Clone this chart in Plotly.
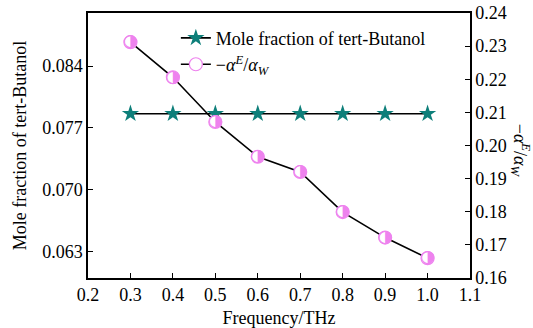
import plotly.graph_objects as go

freq = [0.3, 0.4, 0.5, 0.6, 0.7, 0.8, 0.9, 1.0]
mole_fraction = [0.0786, 0.0786, 0.0786, 0.0786, 0.0786, 0.0786, 0.0786, 0.0786]
alpha_ratio = [0.2312, 0.2206, 0.2071, 0.1966, 0.1920, 0.1799, 0.1722, 0.1660]
x_ticks = [0.2, 0.3, 0.4, 0.5, 0.6, 0.7, 0.8, 0.9, 1.0, 1.1]
y_left_ticks = [0.063, 0.070, 0.077, 0.084]
y_right_ticks = [0.16, 0.17, 0.18, 0.19, 0.20, 0.21, 0.22, 0.23, 0.24]
half_circle = ["\u25d1", "\u25d1", "\u25d1", "\u25d1", "\u25d1", "\u25d1", "\u25d1", "\u25d1"]

FONT = "Times New Roman, Liberation Serif, DejaVu Serif, serif"
TEAL = "#0e7f7a"
PINK = "#ee82ee"
ALPHA_LABEL = "\u2212<i>\u03b1</i><sup><i>E</i></sup>/<i>\u03b1</i><sub><i>W</i></sub>"

fig = go.Figure()
fig.add_trace(go.Scatter(
    x=freq, y=mole_fraction, mode="lines+markers",
    name="Mole fraction of tert-Butanol",
    line=dict(color="black", width=1.6),
    marker=dict(symbol="star", size=13, color=TEAL, line=dict(width=0)),
    yaxis="y",
))
fig.add_trace(go.Scatter(
    x=freq, y=alpha_ratio, mode="lines+markers",
    name=ALPHA_LABEL,
    line=dict(color="black", width=1.6),
    marker=dict(symbol="circle", size=13, color="white",
                line=dict(color=PINK, width=1.2)),
    yaxis="y2",
))
fig.add_trace(go.Scatter(
    x=freq, y=alpha_ratio, mode="text",
    text=half_circle, textposition="middle center",
    textfont=dict(family="DejaVu Sans", size=17, color=PINK),
    showlegend=False, hoverinfo="skip", yaxis="y2",
))

axis_common = dict(
    showline=True, linecolor="black", linewidth=1.5,
    ticks="inside", ticklen=5, tickwidth=1.2, tickcolor="black",
    showgrid=False, zeroline=False, automargin=False,
    tickfont=dict(family=FONT, size=18, color="black"),
)

fig.update_layout(
    width=533, height=328,
    margin=dict(l=88, r=63, t=13, b=50),
    paper_bgcolor="white", plot_bgcolor="white",
    font=dict(family=FONT, size=18, color="black"),
    showlegend=True,
    legend=dict(x=0.23, y=0.975, xanchor="left", yanchor="top",
                bgcolor="rgba(0,0,0,0)", font=dict(family=FONT, size=18),
                tracegroupgap=0),
    xaxis=dict(range=[0.2, 1.1], tickvals=x_ticks, tickformat=".1f",
               mirror=True,
               title=dict(text="Frequency/THz", standoff=24,
                          font=dict(family=FONT, size=18)),
               **axis_common),
    yaxis=dict(range=[0.060, 0.090], tickvals=y_left_ticks, tickformat=".3f",
               title=dict(text="Mole fraction of tert-Butanol", standoff=11,
                          font=dict(family=FONT, size=18)),
               **axis_common),
    yaxis2=dict(range=[0.16, 0.24], tickvals=y_right_ticks, tickformat=".2f",
                overlaying="y", side="right", **axis_common),
    annotations=[dict(
        text=ALPHA_LABEL,
        xref="paper", yref="paper", x=1.131, y=0.48,
        xanchor="center", yanchor="middle",
        showarrow=False, textangle=90,
        font=dict(family=FONT, size=18, color="black"),
    )],
)

fig.write_html(
    "out.html",
    config={"displayModeBar": False},
    post_script="document.body.style.margin='0';document.body.style.padding='0';",
)
